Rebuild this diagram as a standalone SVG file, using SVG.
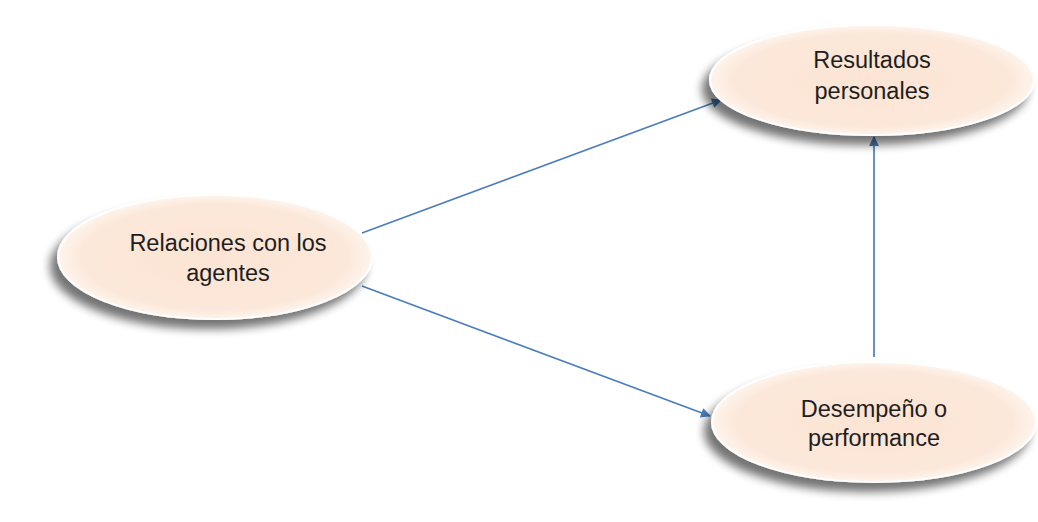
<svg xmlns="http://www.w3.org/2000/svg" width="1038" height="522" viewBox="0 0 1038 522">
  <defs>
    <radialGradient id="peach" cx="50%" cy="50%" r="50%">
      <stop offset="0" stop-color="#fbe4d3"/>
      <stop offset="0.85" stop-color="#fce8da"/>
      <stop offset="1" stop-color="#fef4ec"/>
    </radialGradient>
    <filter id="shadow" x="-20%" y="-30%" width="140%" height="170%">
      <feGaussianBlur in="SourceAlpha" stdDeviation="5"/>
      <feOffset dx="-7" dy="9" result="b"/>
      <feComponentTransfer><feFuncA type="linear" slope="0.55"/></feComponentTransfer>
      <feMerge><feMergeNode/><feMergeNode in="SourceGraphic"/></feMerge>
    </filter>
    <marker id="arrow" viewBox="0 0 10 10" refX="9" refY="5" markerWidth="11" markerHeight="10" orient="auto" markerUnits="userSpaceOnUse">
      <path d="M0,0 L10,5 L0,10 z" fill="#4a7ebb"/>
    </marker>
    <style>
      .node ellipse { fill: url(#peach); stroke: #ffffff; stroke-width: 2; filter: url(#shadow); }
      .node text { font-family: "Liberation Sans", Arial, sans-serif; font-size: 23.5px; fill: #1e1e1e; text-anchor: middle; }
      .edge { stroke: #4a7ebb; stroke-width: 1.7; fill: none; marker-end: url(#arrow); }
    </style>
  </defs>
  <rect width="1038" height="522" fill="#ffffff"/>

  <g id="connectors">
    <line class="edge" x1="362" y1="233" x2="721" y2="100"/>
    <line class="edge" x1="362" y1="286" x2="710" y2="416"/>
    <line class="edge" x1="874" y1="357" x2="874" y2="137"/>
  </g>

  <g id="relaciones" class="node">
    <ellipse cx="215" cy="257" rx="157" ry="62"/>
    <text x="228" y="251">Relaciones con los</text>
    <text x="228" y="281">agentes</text>
  </g>

  <g id="resultados" class="node">
    <ellipse cx="872" cy="80" rx="162" ry="55"/>
    <text x="872" y="68">Resultados</text>
    <text x="872" y="99">personales</text>
  </g>

  <g id="desempeno" class="node">
    <ellipse cx="874" cy="422" rx="162" ry="60"/>
    <text x="874" y="417">Desempeño o</text>
    <text x="874" y="446">performance</text>
  </g>
</svg>
